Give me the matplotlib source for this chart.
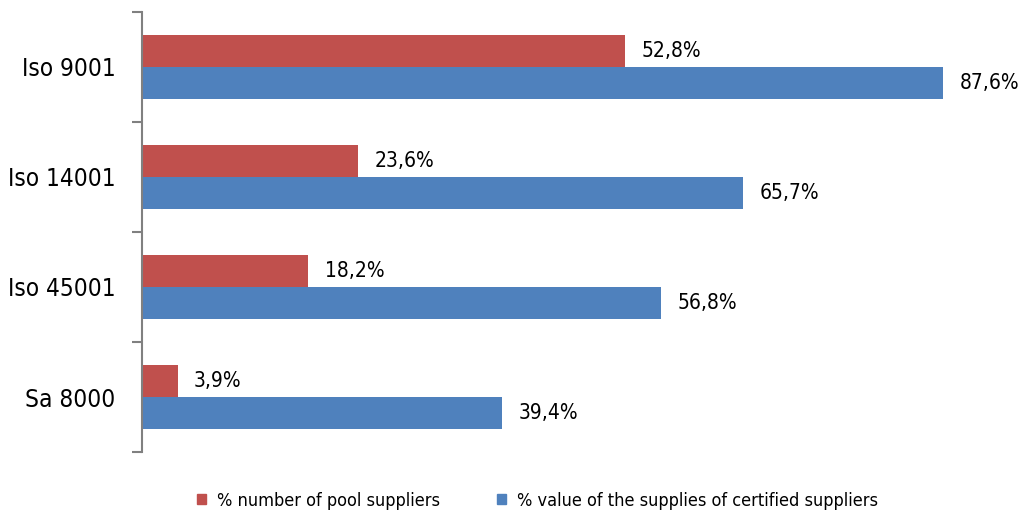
import numpy as np
import matplotlib
matplotlib.use('Agg')
import matplotlib.pyplot as plt
from matplotlib.patches import Patch

# Data
categories = ['Iso 9001', 'Iso 14001', 'Iso 45001', 'Sa 8000']
pool_pct = [52.8, 23.6, 18.2, 3.9]
value_pct = [87.6, 65.7, 56.8, 39.4]
series_names = ['% number of pool suppliers',
                '% value of the supplies of certified suppliers']

red = '#C0504D'
blue = '#4F81BD'

plt.rcParams['font.family'] = 'DejaVu Sans'
plt.rcParams['font.stretch'] = 'condensed'

fig = plt.figure(figsize=(10.21, 5.12), dpi=100)
ax = fig.add_axes([0.139, 0.117, 0.842, 0.86])

y = np.arange(len(categories))
h = 0.29
ax.barh(y - h / 2, pool_pct, height=h, color=red)
ax.barh(y + h / 2, value_pct, height=h, color=blue)

# Value labels
for yi, v in zip(y, pool_pct):
    ax.text(v + 1.8, yi - h / 2, f'{v:.1f}%'.replace('.', ','),
            va='center', ha='left', fontsize=15)
for yi, v in zip(y, value_pct):
    ax.text(v + 1.8, yi + h / 2, f'{v:.1f}%'.replace('.', ','),
            va='center', ha='left', fontsize=15)

ax.set_ylim(len(categories) - 0.5, -0.5)
ax.set_xlim(0, 94)
ax.set_yticks(np.arange(-0.5, len(categories), 1.0))
ax.set_yticklabels([])
ax.set_yticks(y, minor=True)
ax.set_yticklabels(categories, minor=True, fontsize=17.5)
ax.tick_params(axis='y', which='major', length=7, width=1.5, color='#808080', direction='out')
ax.tick_params(axis='y', which='minor', length=0, pad=19)
ax.set_xticks([])

for s in ['top', 'right', 'bottom']:
    ax.spines[s].set_visible(False)
ax.spines['left'].set_color('#808080')
ax.spines['left'].set_linewidth(1.5)

handles = [Patch(color=red), Patch(color=blue)]
fig.legend(handles, series_names, loc='center', bbox_to_anchor=(0.5265, 0.022),
           ncol=2, frameon=False, fontsize=13, handlelength=0.5, handleheight=0.5,
           columnspacing=3.2, handletextpad=0.6)

fig.savefig('out.png', dpi=100)
